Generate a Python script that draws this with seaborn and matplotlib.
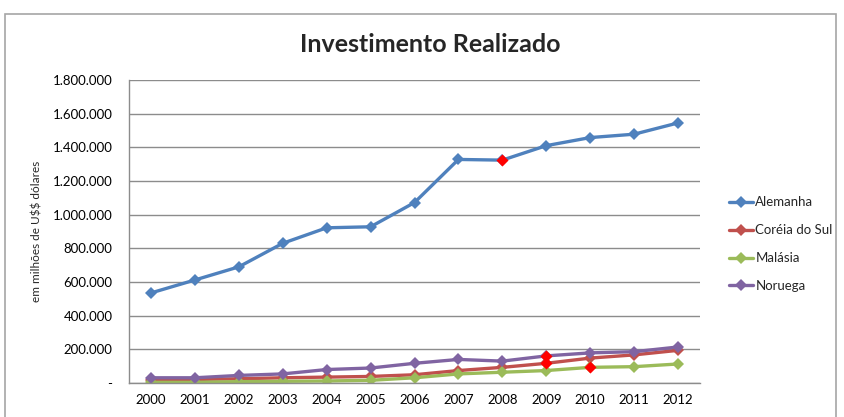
import matplotlib
matplotlib.use("Agg")
import matplotlib.pyplot as plt
from matplotlib.patches import Rectangle
from matplotlib.ticker import FuncFormatter
import seaborn as sns
import pandas as pd

# values, in US$ millions
years = list(range(2000, 2013))
alemanha = [535000, 612000, 690000, 830000, 922000, 928000, 1072000,
            1328000, 1324000, 1410000, 1458000, 1478000, 1545000]
coreia = [19000, 21000, 25000, 31000, 35000, 39000, 49000,
          74000, 93000, 117000, 148000, 167000, 194000]
malasia = [4000, 4000, 8000, 10000, 12000, 16000, 31000,
           54000, 64000, 74000, 93000, 97000, 113000]
noruega = [31000, 31000, 45000, 54000, 80000, 89000, 117000,
           140000, 130000, 161000, 179000, 186000, 214000]
countries = ["Alemanha", "Coréia do Sul", "Malásia", "Noruega"]
colors = ["#4F81BD", "#C0504D", "#9BBB59", "#8064A2"]

# points shown with a red marker in the original
hl_country = ["Alemanha", "Noruega", "Coréia do Sul", "Malásia"]
hl_year = [2008, 2009, 2009, 2010]

series = dict(zip(countries, [alemanha, coreia, malasia, noruega]))
df = pd.DataFrame([(y, c, v) for c in countries for y, v in zip(years, series[c])],
                  columns=["ano", "pais", "valor"])
hl = df.merge(pd.DataFrame({"pais": hl_country, "ano": hl_year}))

sns.set_style("white")
plt.rcParams["font.family"] = ["Lato", "DejaVu Sans"]

fig = plt.figure(figsize=(8.44, 4.17), dpi=100)
ax = fig.add_axes([129 / 844, 1 - 383 / 417, 571 / 844, 303 / 417])

sns.lineplot(data=df, x="ano", y="valor", hue="pais", hue_order=countries,
             palette=colors, style="pais", markers=["D"] * 4, dashes=False,
             linewidth=2.4, markersize=6.5, markeredgewidth=0, ax=ax)
sns.scatterplot(data=hl, x="ano", y="valor", color="#FF0000", marker="D",
                s=38, linewidth=0, ax=ax, legend=False, zorder=5)

ax.set_xlim(1999.5, 2012.5)
ax.set_ylim(0, 1800000)
ax.set_xticks(years)
ax.set_yticks(range(0, 1800001, 200000))
ax.yaxis.set_major_formatter(FuncFormatter(
    lambda v, p: "-" if v == 0 else f"{int(v):,}".replace(",", ".")))
ax.grid(axis="y", color="#8C8C8C", linewidth=1)
ax.set_axisbelow(True)
for s in ["top", "right"]:
    ax.spines[s].set_visible(False)
for s in ["left", "bottom"]:
    ax.spines[s].set_color("#8C8C8C")
    ax.spines[s].set_linewidth(1)
ax.tick_params(axis="both", length=0, labelsize=9.5, colors="black")
ax.tick_params(axis="y", pad=12)
ax.tick_params(axis="x", pad=8)
ax.set_xlabel("")
ax.set_ylabel(r"em milhões de U\$\$ dólares", fontsize=8.5, labelpad=7)

fig.suptitle("Investimento Realizado", x=0.51, y=0.92, fontsize=18,
             fontweight="bold")

handles, labels = ax.get_legend_handles_labels()
ax.legend(handles, labels, loc="center left", bbox_to_anchor=(1.03, 0.458),
          frameon=False, fontsize=9.5, handlelength=1.8, handletextpad=0.2,
          labelspacing=1.2)

fig.patches.append(Rectangle((5 / 844, -0.01), 0.985, 0.976, transform=fig.transFigure,
                             fill=False, edgecolor="#A6A6A6", linewidth=1.2))

fig.savefig("out.png", dpi=100)
